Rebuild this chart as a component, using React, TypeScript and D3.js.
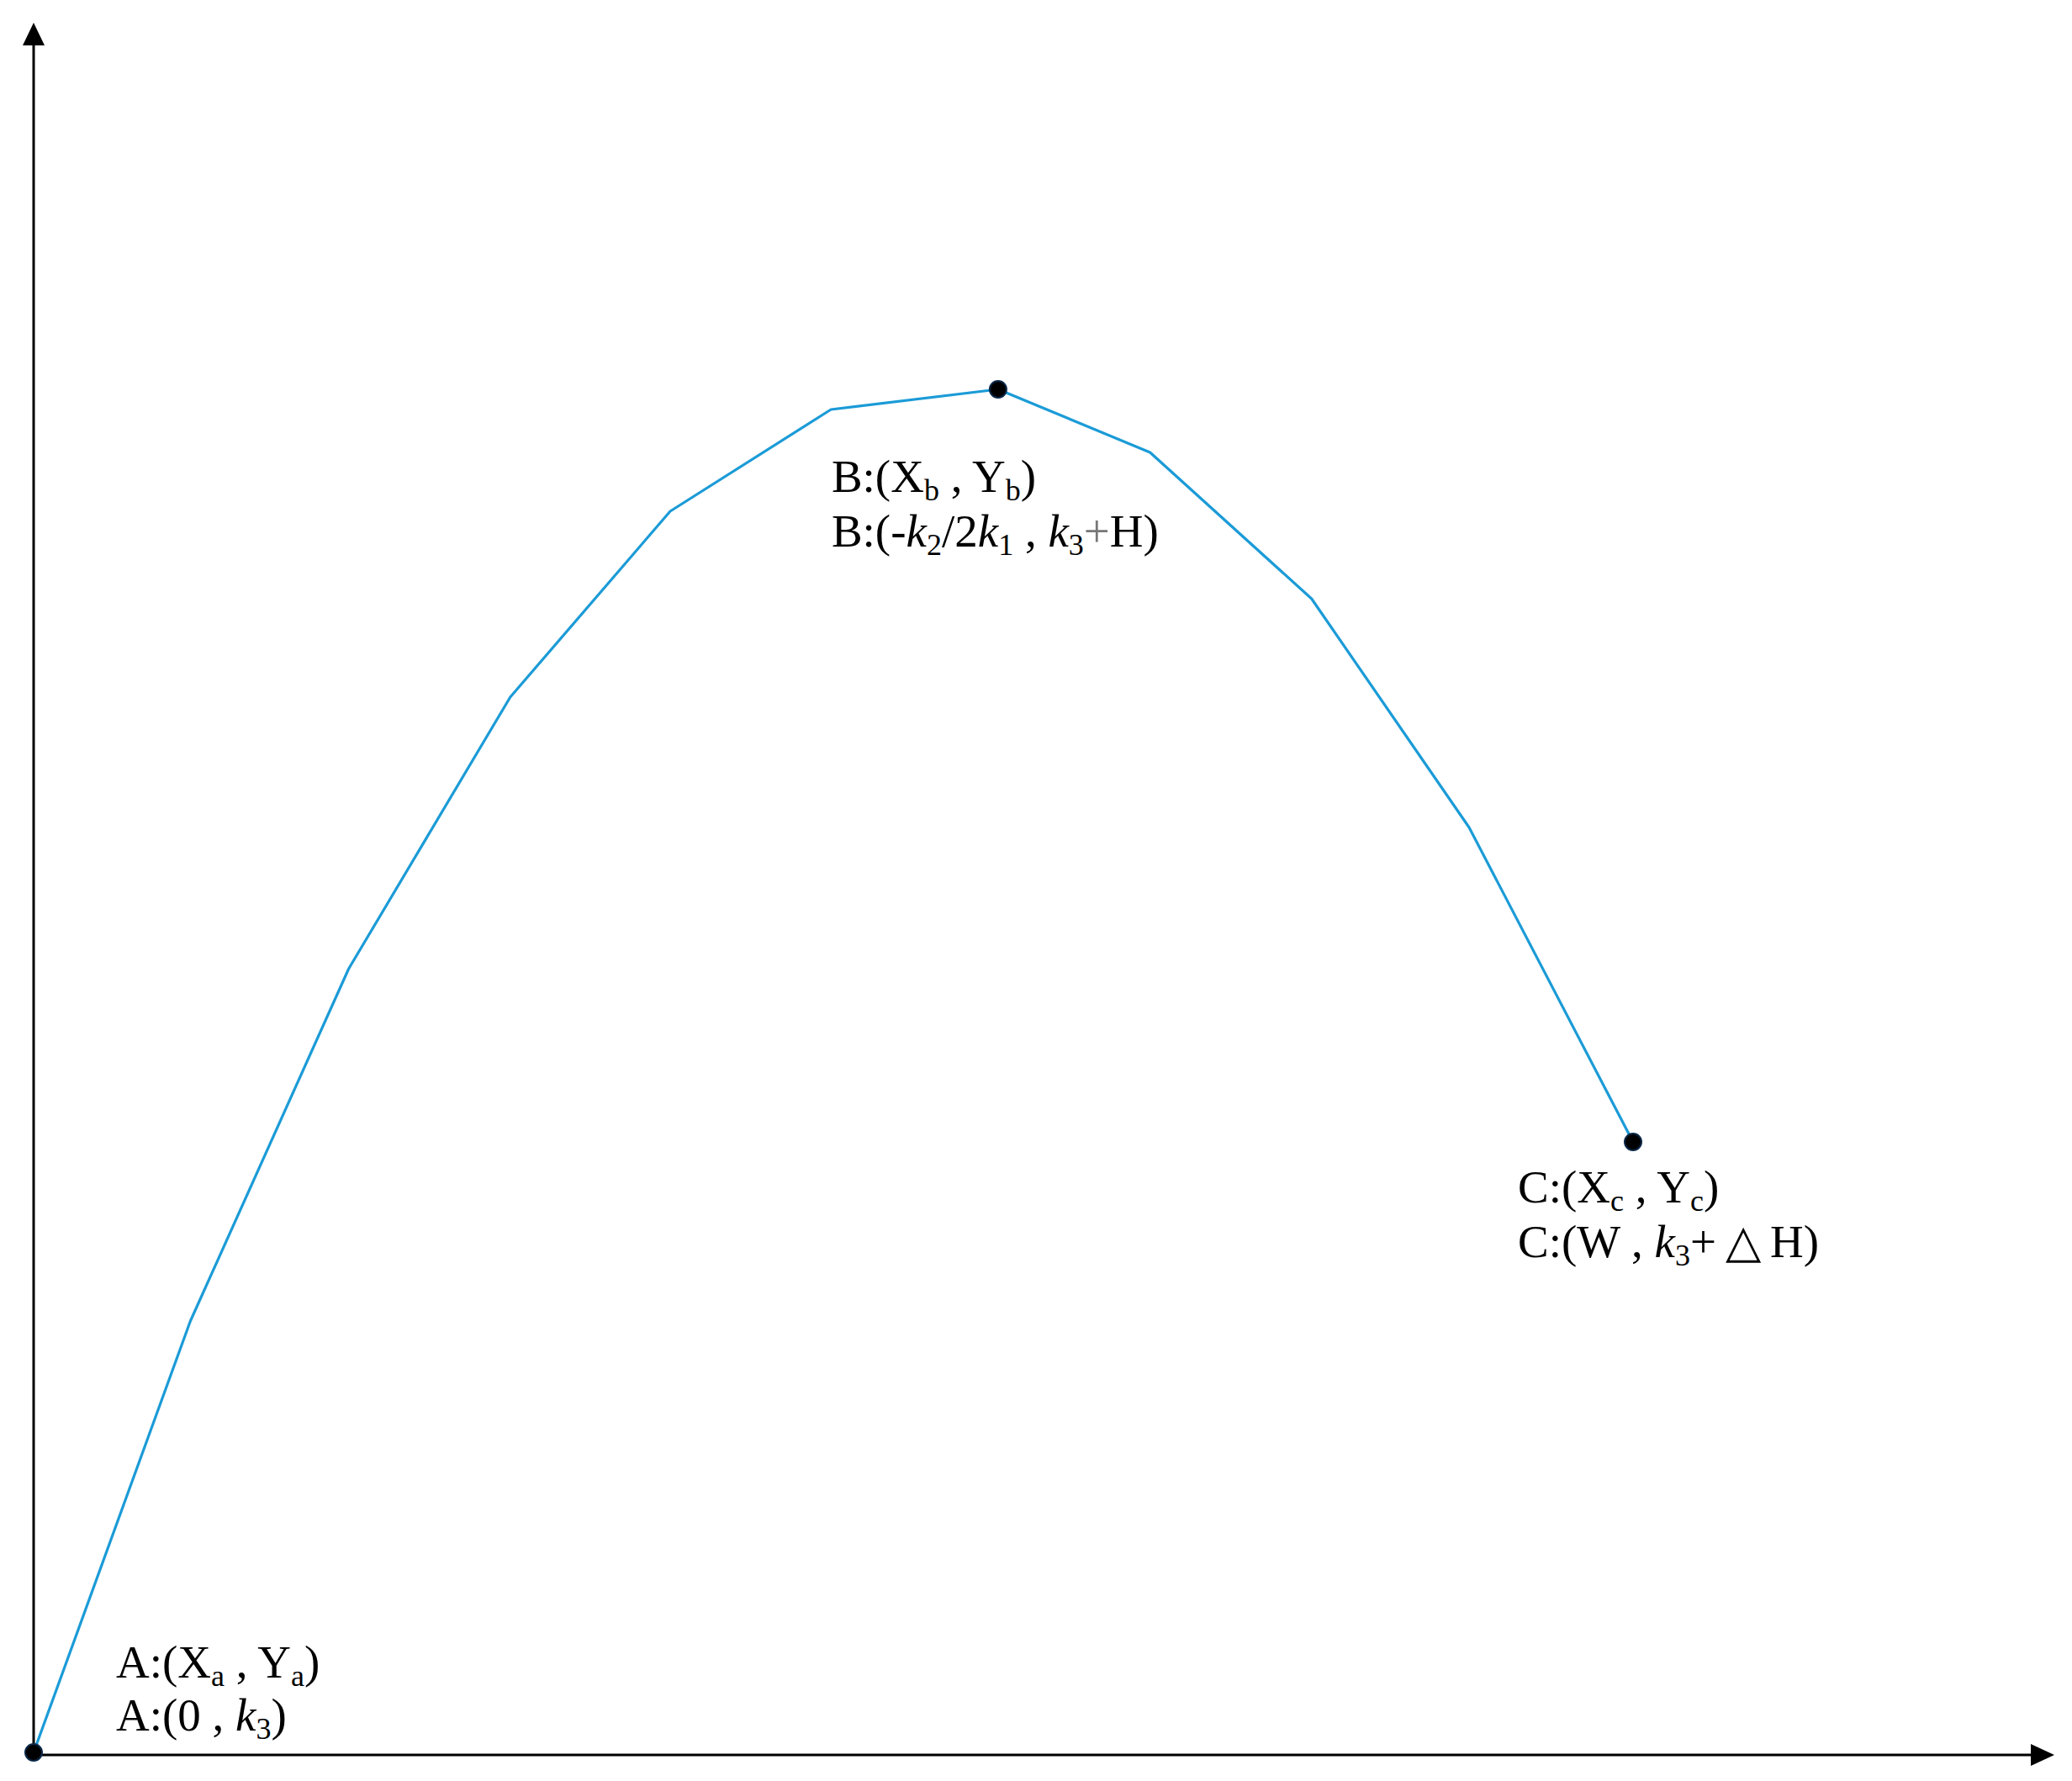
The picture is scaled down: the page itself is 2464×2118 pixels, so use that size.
import React from 'react';
import * as d3 from 'd3';

// trajectory sample positions (horizontal distance) and heights
const distances = [0, 0.98, 1.97, 2.98, 3.98, 4.985, 6.03, 6.98, 7.99, 8.975, 10];
const heights = [0, 25.65, 46.6, 62.75, 73.8, 79.85, 81.05, 77.3, 68.6, 55.0, 36.3];

// marked points: index into the samples
const markedIdx = [0, 6, 10];

// label segments: [text, italic, subscript, grey]
type Seg = [string, boolean?, boolean?, boolean?];
const labelA1: Seg[] = [['A:(X'], ['a', false, true], [' , Y'], ['a', false, true], [')']];
const labelA2: Seg[] = [['A:(0 , '], ['k', true], ['3', false, true], [')']];
const labelB1: Seg[] = [['B:(X'], ['b', false, true], [' , Y'], ['b', false, true], [')']];
const labelB2: Seg[] = [['B:(-'], ['k', true], ['2', false, true], ['/2'], ['k', true], ['1', false, true], [' , '], ['k', true], ['3', false, true], ['+', false, false, true], ['H)']];
const labelC1: Seg[] = [['C:(X'], ['c', false, true], [' , Y'], ['c', false, true], [')']];
const labelC2: Seg[] = [['C:(W , '], ['k', true], ['3', false, true], ['+\u2009△\u2009H)']];

const W = 2464, H = 2118;
const axisX = 40, axisY = 2087;

const LINE_BLUE = '#1b9bd7';
const FONT = '"Liberation Serif", "Times New Roman", serif';
const FS = 55;
const SUB = 36;
const SUB_DY = 10;

const Label = ({ x, y, segs }: { x: number; y: number; segs: Seg[] }) => {
  let low = false;
  return (
    <text x={x} y={y}>
      {segs.map(([t, it, sub, grey], i) => {
        const dy = sub && !low ? SUB_DY : !sub && low ? -SUB_DY : 0;
        low = !!sub;
        return (
          <tspan key={i} dy={dy} fontSize={sub ? SUB : FS} fontStyle={it ? 'italic' : 'normal'}
            fill={grey ? '#777' : '#000'}>{t}</tspan>
        );
      })}
    </text>
  );
};

export default function App() {
  const x = d3.scaleLinear().domain([0, 10]).range([axisX, 1942]);
  const y = d3.scaleLinear().domain([0, 100]).range([2084, 84]);

  const pts = distances.map((s, i) => [x(s), y(heights[i])] as [number, number]);
  const line = d3.line()(pts) || '';

  const [ax, ay] = pts[markedIdx[0]];
  const [bx, by] = pts[markedIdx[1]];
  const [cx, cy] = pts[markedIdx[2]];

  return (
    <svg width={W} height={H} style={{ position: 'absolute', left: 0, top: 0, background: '#fff' }}>
      {/* axes */}
      <line x1={axisX} y1={axisY} x2={axisX} y2={50} stroke="#000" strokeWidth={3} />
      <line x1={axisX} y1={axisY} x2={2418} y2={axisY} stroke="#000" strokeWidth={3} />
      <path d={`M${axisX},27 L${axisX + 13},54 L${axisX - 13},54 Z`} fill="#000" />
      <path d={`M2443,${axisY} L2415,${axisY - 13} L2415,${axisY + 13} Z`} fill="#000" />

      {/* trajectory */}
      <path d={line} fill="none" stroke={LINE_BLUE} strokeWidth={3.2} strokeLinejoin="round" />

      {markedIdx.map(i => (
        <circle key={i} cx={pts[i][0]} cy={pts[i][1]} r={10} fill="#000" stroke="#0b2747" strokeWidth={2} />
      ))}

      <g fontFamily={FONT} fontSize={FS} fill="#000">
        <Label x={ax + 98} y={ay - 89} segs={labelA1} />
        <Label x={ax + 98} y={ay - 26} segs={labelA2} />
        <Label x={bx - 198} y={by + 122} segs={labelB1} />
        <Label x={bx - 198} y={by + 187} segs={labelB2} />
        <Label x={cx - 137} y={cy + 72} segs={labelC1} />
        <Label x={cx - 137} y={cy + 137} segs={labelC2} />
      </g>
    </svg>
  );
}
